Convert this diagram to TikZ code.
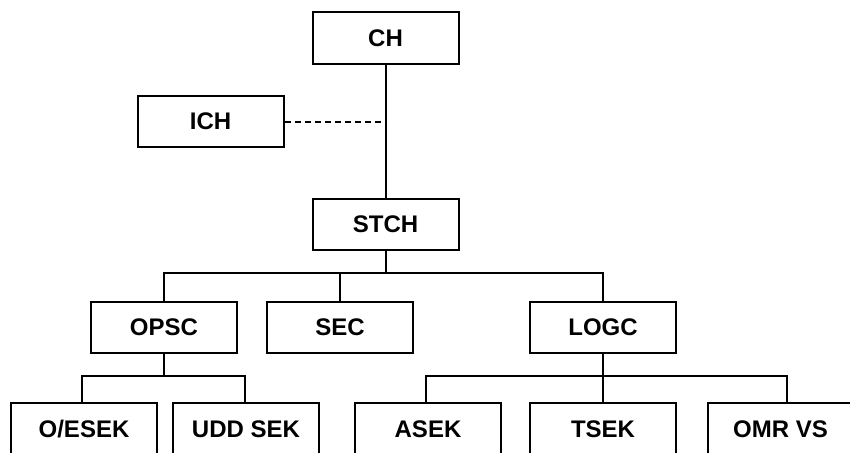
\documentclass[tikz,border=0pt]{standalone}
\usepackage{fontspec}
\setmainfont{Liberation Sans}
\begin{document}
\begin{tikzpicture}[x=1pt,y=-1pt,
  box/.style={draw,line width=2pt,minimum width=146pt,minimum height=51pt,inner sep=0pt,
    font=\fontsize{24}{28}\selectfont\bfseries},
  conn/.style={line width=2pt},
  dashconn/.style={line width=2pt,dash pattern=on 6pt off 4pt}]
\useasboundingbox (0,0) rectangle (850,452);
\node[box] (ch)   at (385.5,38) {CH};
\node[box] (ich)  at (210.5,121.5) {ICH};
\node[box] (stch) at (385.5,224) {STCH};
\node[box] (opsc) at (164,327) {OPSC};
\node[box] (sec)  at (340,327) {SEC};
\node[box] (logc) at (603,327) {LOGC};
\node[box,minimum height=52pt] (oesek) at (84,429) {O/ESEK};
\node[box,minimum height=52pt] (udd)   at (246,429) {UDD SEK};
\node[box,minimum height=52pt] (asek)  at (428,429) {ASEK};
\node[box,minimum height=52pt] (tsek)  at (603,429) {TSEK};
\node[box,minimum height=52pt] (omr)   at (780.5,429) {OMR VS};
\coordinate (busA) at (385.5,273);
\coordinate (busB) at (164,376);
\coordinate (busC) at (603,376);
\draw[conn] (ch.south) -- (stch.north);
\draw[dashconn] (ich.east) -- (ich.east -| ch.south);
\draw[conn] (stch.south) -- (busA);
\draw[conn] (opsc.north) |- (busA) -| (logc.north);
\draw[conn] (sec.north) -- (sec.north |- busA);
\draw[conn] (opsc.south) -- (busB);
\draw[conn] ([xshift=-2pt]oesek.north) |- (busB) -| ([xshift=-1pt]udd.north);
\draw[conn] (logc.south) -- (tsek.north);
\draw[conn] ([xshift=-2pt]asek.north) |- (busC) -| ([xshift=6pt]omr.north);
\end{tikzpicture}
\end{document}
